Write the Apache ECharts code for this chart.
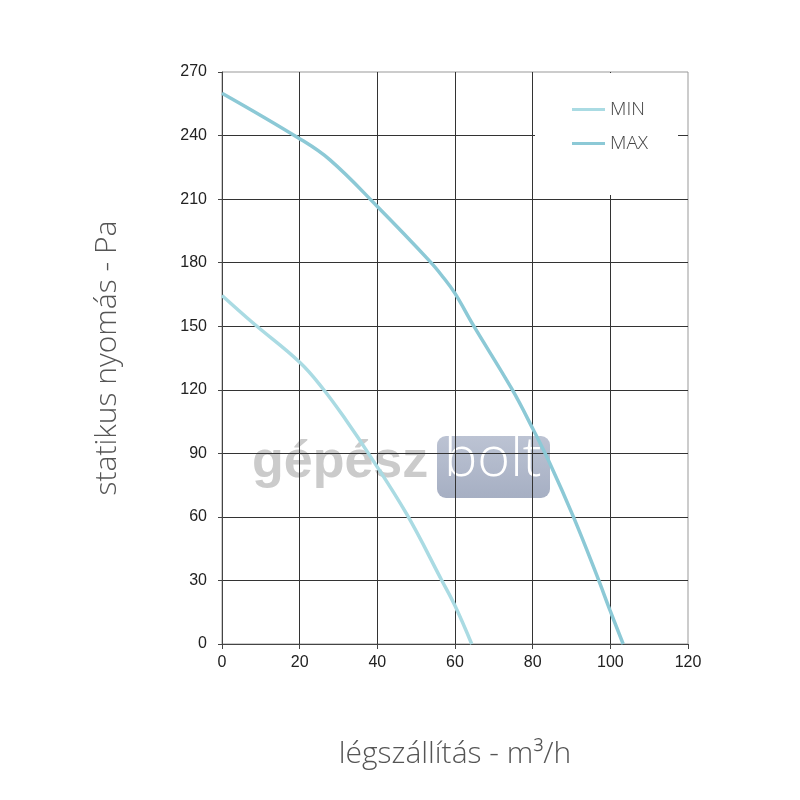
<!DOCTYPE html>
<html>
<head>
<meta charset="utf-8">
<script src="https://cdn.jsdelivr.net/npm/echarts@6/dist/echarts.min.js"></script>
<style>html,body{margin:0;padding:0;background:#fff}#c{width:800px;height:800px}</style>
</head>
<body>
<div id="c"></div>
<script>
// Data
var seriesNames = ['MIN', 'MAX'];
var minFlow = [0, 8, 20, 26, 32, 37.7, 47.5, 56.6, 60, 64.3];
var minPressure = [164.5, 151.5, 133, 120.5, 105.5, 90, 61.5, 30, 18, 0];
var maxFlow = [0, 20, 27.8, 40, 53.6, 57, 60, 64.7, 74.6, 80.2, 84.5, 90.5, 96.5, 99.9, 103.3];
var maxPressure = [260, 238.5, 228.5, 206.5, 180.5, 173, 165.5, 150.5, 120.5, 101, 85, 60, 32.5, 16, 0];
var xTicks = [0, 20, 40, 60, 80, 100, 120];
var yTicks = [0, 30, 60, 90, 120, 150, 180, 210, 240, 270];
var xTitle = 'légszállítás - m³/h';
var yTitle = 'statikus nyomás - Pa';

function pairs(xs, ys) { return xs.map(function (x, i) { return [x, ys[i]]; }); }

var chart = echarts.init(document.getElementById('c'));
var labelFont = { fontFamily: 'Liberation Sans, Arial, sans-serif', fontSize: 16, color: '#222' };
var titleFont = { fontFamily: 'Open Sans, Lato, sans-serif', fontWeight: 300, fontSize: 30, color: '#555' };

chart.setOption({
  animation: false,
  backgroundColor: '#fff',
  grid: { left: 222, right: 112, top: 72, bottom: 156, show: true, borderColor: '#999', borderWidth: 1 },
  legend: {
    data: seriesNames,
    orient: 'vertical',
    left: 535, top: 73,
    padding: [27, 30, 42, 37],
    backgroundColor: '#fff',
    itemGap: 15,
    itemWidth: 33, itemHeight: 3,
    icon: 'rect',
    textStyle: { fontFamily: 'Open Sans, Lato, sans-serif', fontWeight: 300, fontSize: 19, color: '#444' }
  },
  xAxis: {
    type: 'value', min: xTicks[0], max: xTicks[xTicks.length - 1], interval: 20,
    name: xTitle, nameLocation: 'middle', nameGap: 95, nameTextStyle: titleFont,
    axisLine: { show: true, lineStyle: { color: '#444', width: 1 } },
    axisTick: { show: true, length: 5, lineStyle: { color: '#444' } },
    axisLabel: Object.assign({ margin: 11 }, labelFont),
    splitLine: { show: true, showMinLine: false, showMaxLine: false, lineStyle: { color: '#333', width: 1 } }
  },
  yAxis: {
    type: 'value', min: yTicks[0], max: yTicks[yTicks.length - 1], interval: 30,
    name: yTitle, nameLocation: 'middle', nameGap: 100, nameRotate: 90, nameTextStyle: titleFont,
    axisLine: { show: true, lineStyle: { color: '#444', width: 1 } },
    axisTick: { show: true, length: 4, lineStyle: { color: '#444' } },
    axisLabel: Object.assign({ margin: 15 }, labelFont),
    splitLine: { show: true, showMinLine: false, showMaxLine: false, lineStyle: { color: '#333', width: 1 } }
  },
  graphic: [
    { type: 'text', z: -1, left: 252, top: 437,
      style: { text: 'gépész', fontFamily: 'Liberation Sans, Arial, sans-serif', fontWeight: 'bold', fontSize: 52, fill: '#cbcbcb' } },
    { type: 'rect', z: -1, shape: { x: 437, y: 436, width: 113, height: 62, r: 9 },
      style: { fill: new echarts.graphic.LinearGradient(0, 0, 0, 1, [{ offset: 0, color: '#bcc3d3' }, { offset: 1, color: '#a6afc3' }]) } },
    { type: 'text', z: -1, left: 444, top: 432,
      style: { text: 'bolt', fontFamily: 'Open Sans, sans-serif', fontWeight: 300, fontSize: 56, fill: '#fff' } }
  ],
  series: [
    { name: seriesNames[0], type: 'line', smooth: 0.4, symbol: 'none',
      data: pairs(minFlow, minPressure),
      itemStyle: { color: '#aadbe3' }, lineStyle: { color: '#aadbe3', width: 3.5 } },
    { name: seriesNames[1], type: 'line', smooth: 0.4, symbol: 'none',
      data: pairs(maxFlow, maxPressure),
      itemStyle: { color: '#8cc9d6' }, lineStyle: { color: '#8cc9d6', width: 3.5 } }
  ]
});
</script>
</body>
</html>
